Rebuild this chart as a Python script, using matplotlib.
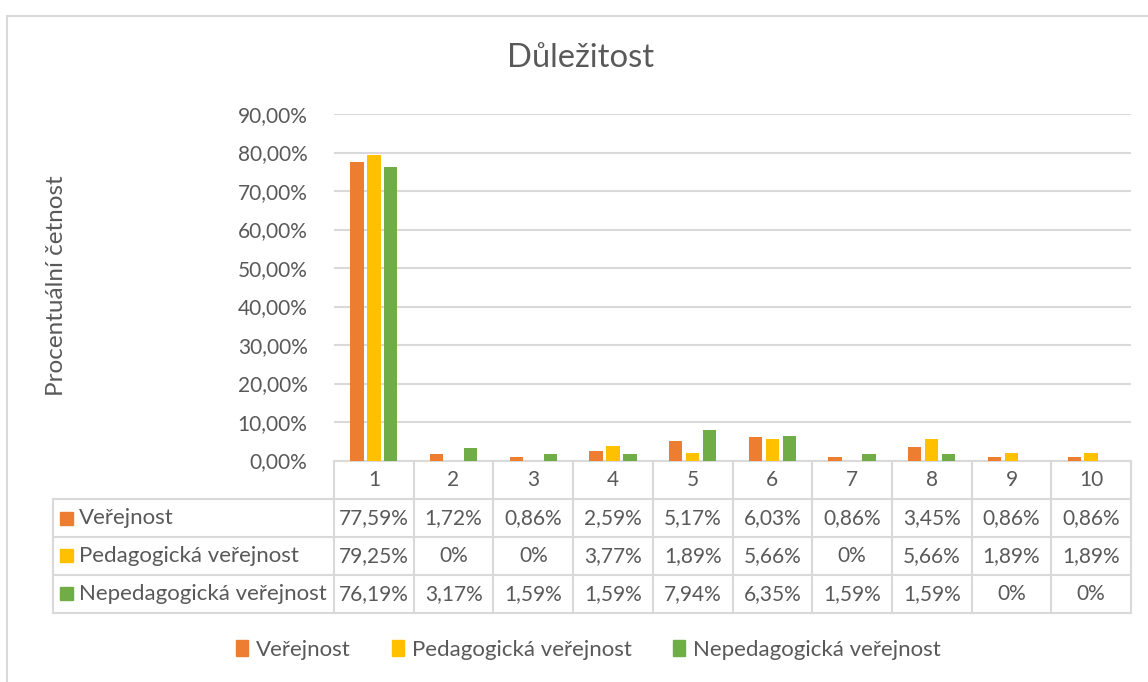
import matplotlib
matplotlib.use("Agg")
import matplotlib.pyplot as plt
import matplotlib.transforms as mtransforms
from matplotlib.patches import Rectangle

categories = ["1", "2", "3", "4", "5", "6", "7", "8", "9", "10"]
series_names = ["Veřejnost", "Pedagogická veřejnost", "Nepedagogická veřejnost"]
verejnost = [77.59, 1.72, 0.86, 2.59, 5.17, 6.03, 0.86, 3.45, 0.86, 0.86]
pedagogicka = [79.25, 0, 0, 3.77, 1.89, 5.66, 0, 5.66, 1.89, 1.89]
nepedagogicka = [76.19, 3.17, 1.59, 1.59, 7.94, 6.35, 1.59, 1.59, 0, 0]
y_ticks = [0, 10, 20, 30, 40, 50, 60, 70, 80, 90]
title = "Důležitost"
y_label = "Procentuální četnost"

colors = ["#ED7D31", "#FFC000", "#70AD47"]
text_color = "#595959"
grid_color = "#D9D9D9"

plt.rcParams['font.family'] = ['Lato', 'DejaVu Sans']

W, H = 1148, 682
fig = plt.figure(figsize=(W / 100, H / 100), dpi=100)

def fx(px):
    return px / W

def fy(py):
    return 1 - py / H

# outer chart border
fig.patches.append(Rectangle((fx(7), fy(700)), fx(1160) - fx(7), fy(16) - fy(700),
                             transform=fig.transFigure, fill=False,
                             edgecolor=grid_color, linewidth=1.5))

ax_l, ax_r, ax_t, ax_b = 334, 1131, 114, 460.5
ax = fig.add_axes([fx(ax_l), fy(ax_b), fx(ax_r - ax_l), (ax_b - ax_t) / H])

series = [verejnost, pedagogicka, nepedagogicka]
step = 0.213
width = 0.167
xs = list(range(len(categories)))
for i, (vals, c) in enumerate(zip(series, colors)):
    off = (i - 1) * step
    ax.bar([x + off for x in xs], vals, width=width, color=c, zorder=3)

ax.set_xlim(-0.5, len(categories) - 0.5)
ax.set_ylim(0, 90)
ax.set_yticks(y_ticks)
ax.set_yticklabels([f"{t:.2f}".replace('.', ',') + "%" for t in y_ticks])
ax.set_xticks([])
for s in ax.spines.values():
    s.set_visible(False)
ax.yaxis.grid(True, color=grid_color, linewidth=1.5, zorder=0)
ax.tick_params(axis='y', length=0, pad=19, labelsize=15, labelcolor=text_color)
ax.set_facecolor('none')

ax.set_ylabel(y_label, fontsize=17.5, color=text_color, labelpad=0)
ax.yaxis.set_label_coords((57 - ax_l) / (ax_r - ax_l), (ax_b - 286) / (ax_b - ax_t))
ax.yaxis.label.set_va('center')

fig.text(fx(581), fy(58), title, ha='center', va='center', fontsize=23.6, color=text_color)

# data table below axes
ah = ax_b - ax_t
def ay(py):
    return (ax_b - py) / ah

def axx(px):
    return (px - ax_l) / (ax_r - ax_l)

blend = mtransforms.blended_transform_factory(ax.transData, ax.transAxes)
rows_y = [460.5, 499, 537, 574.5, 613]
lw = 1.5
# horizontal lines
ax.plot([0, 1], [ay(rows_y[0])] * 2, transform=ax.transAxes, color=grid_color, lw=lw, clip_on=False)
for yy in rows_y[1:]:
    ax.plot([axx(53), 1], [ay(yy)] * 2, transform=ax.transAxes, color=grid_color, lw=lw, clip_on=False)
# vertical lines
for k in range(len(categories) + 1):
    ax.plot([k - 0.5, k - 0.5], [ay(rows_y[0]), ay(rows_y[-1])], transform=blend,
            color=grid_color, lw=lw, clip_on=False)
ax.plot([axx(53)] * 2, [ay(rows_y[1]), ay(rows_y[-1])], transform=ax.transAxes,
        color=grid_color, lw=lw, clip_on=False)

num_fs = 15
lab_fs = 16
def fmt(v):
    if v == 0:
        return "0%"
    return f"{v:.2f}".replace('.', ',') + "%"

for k, cat in enumerate(categories):
    ax.text(k, ay((rows_y[0] + rows_y[1]) / 2), cat, transform=blend, ha='center', va='center',
            fontsize=num_fs, color=text_color, clip_on=False)
for r, (name, vals, c) in enumerate(zip(series_names, series, colors)):
    yc = ay((rows_y[r + 1] + rows_y[r + 2]) / 2)
    ax.add_patch(Rectangle((axx(60), yc - 6.5 / ah), axx(73) - axx(60), 13 / ah,
                           transform=ax.transAxes, color=c, clip_on=False))
    ax.text(axx(79), yc, name, transform=ax.transAxes, ha='left', va='center',
            fontsize=lab_fs, color=text_color, clip_on=False)
    for k, v in enumerate(vals):
        ax.text(k, yc, fmt(v), transform=blend, ha='center', va='center',
                fontsize=num_fs, color=text_color, clip_on=False)

# legend
handles = [Rectangle((0, 0), 1, 1, color=c) for c in colors]
leg = fig.legend(handles, series_names, loc='center', bbox_to_anchor=(fx(588), fy(650)),
                 ncol=3, frameon=False, fontsize=16, handlelength=0.55, handleheight=0.75,
                 handletextpad=0.35, columnspacing=1.85)
for t in leg.get_texts():
    t.set_color(text_color)

fig.savefig("out.png", dpi=100)
